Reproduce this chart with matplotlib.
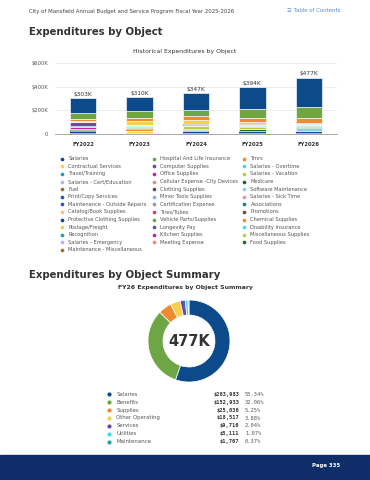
import matplotlib
matplotlib.use("Agg")
import matplotlib.pyplot as plt
from matplotlib.patches import Rectangle
import numpy as np

years = ["FY2022", "FY2023", "FY2024", "FY2025", "FY2026"]

# series in legend order (Highcharts stacks the first one on top)
names = [
    "Salaries", "Hospital And Life Insurance", "Tmrs",
    "Contractual Services", "Computer Supplies", "Salaries - Overtime",
    "Travel/Training", "Office Supplies", "Salaries - Vacation",
    "Salaries - Cert/Education", "Cellular Expense -City Devices", "Medicare",
    "Fuel", "Clothing Supplies", "Software Maintenance",
    "Print/Copy Services", "Minor Tools Supplies", "Salaries - Sick Time",
    "Maintenance - Outside Repairs", "Certification Expense", "Associations",
    "Catalog/Book Supplies", "Tires/Tubes", "Promotions",
    "Protective Clothing Supplies", "Vehicle Parts/Supplies", "Chemical Supplies",
    "Postage/Freight", "Longevity Pay", "Disability Insurance",
    "Recognition", "Kitchen Supplies", "Miscellaneous Supplies",
    "Salaries - Emergency", "Meeting Expense", "Food Supplies",
    "Maintenance - Miscellaneous",
]

# values in $K
values = [
    [125, 119, 140, 186, 247],
    [49, 60, 59, 72, 93],
    [20, 23, 33, 34, 42],
    [11, 29, 34, 20, 6],
    [33, 2, 3, 2, 3],
    [2, 12, 4, 12, 8],
    [2, 4, 3, 10, 4],
    [22, 2, 2, 2, 2],
    [3, 4, 30, 12, 7],
    [4, 3, 3, 3, 3],
    [2, 2, 2, 2, 2],
    [3, 4, 6, 10, 6],
    [2, 2, 2, 2, 2],
    [1, 1, 1, 1, 1],
    [1, 1, 2, 3, 28],
    [1, 1, 1, 1, 1],
    [1, 1, 1, 1, 1],
    [2, 2, 2, 2, 2],
    [1, 1, 1, 1, 1],
    [1, 1, 1, 1, 1],
    [1, 1, 1, 1, 1],
    [1, 1, 1, 1, 1],
    [1, 1, 1, 1, 1],
    [1, 1, 1, 1, 1],
    [1, 1, 1, 1, 1],
    [1, 1, 1, 1, 1],
    [1, 1, 1, 1, 1],
    [1, 20, 1, 1, 1],
    [1, 1, 1, 1, 1],
    [1, 1, 1, 1, 1],
    [1, 1, 1, 1, 1],
    [1, 1, 1, 1, 1],
    [1, 1, 1, 1, 1],
    [1, 1, 1, 1, 1],
    [1, 1, 1, 1, 1],
    [1, 1, 1, 1, 1],
    [1, 1, 1, 1, 1],
]

palette = [
    "#0d4a8c", "#6ea645", "#f08a2e", "#f5d14b", "#6b4aa6", "#3cdcec",
    "#1ba2ad", "#c0259a", "#c6c93b", "#b7b2f0", "#ee8a72", "#1d6b20",
    "#a8672c", "#4f5a57", "#8ccbea", "#1d5fae", "#7fb3e8", "#f08bc4",
    "#3e50b5", "#8c9aa8", "#17838b", "#f6bd8c", "#dc3a74", "#7a4a33",
]

pie_labels = ["Salaries", "Benefits", "Supplies", "Other Operating",
              "Services", "Utilities", "Maintenance"]
pie_values = [263983, 152933, 25036, 18517, 9716, 5111, 1767]
pie_colors = ["#0d4a8c", "#6ea645", "#f08a2e", "#f5d14b", "#6b4aa6",
              "#3cdcec", "#1ba2ad"]

W, H = 370, 480
fig = plt.figure(figsize=(3.7, 4.8), dpi=100)
fig.patch.set_facecolor("white")

def fx(x):
    return x / W

def fy(y):
    return 1 - y / H

# ---- stacked columns
ax = fig.add_axes([fx(55), fy(134), fx(337) - fx(55), fy(63) - fy(134)])
x = np.arange(len(years))
bottom = np.zeros(len(years))
for i in range(len(names) - 1, -1, -1):
    v = np.array(values[i], dtype=float)
    # thin white border only on the segments big enough to show it
    lw = [0.45 if vi >= 4 else 0 for vi in v]
    ax.bar(x, v, width=0.47, bottom=bottom, color=palette[i % 24],
           edgecolor="white", linewidth=lw, zorder=3)
    bottom += v
totals = bottom
for xi, t in zip(x, totals):
    ax.text(xi, t + 12, "${:.0f}K".format(t), ha="center", va="bottom",
            fontsize=4.2, color="#333333")
ax.set_xlim(-0.5, 4.5)
ax.set_ylim(0, 600)
ax.set_yticks([0, 200, 400, 600])
ax.set_yticklabels(["0", "$200K", "$400K", "$600K"])
ax.set_xticks(x)
ax.set_xticklabels(years, fontweight="bold")
ax.tick_params(axis="y", length=0, labelsize=3.8, labelcolor="#555555", pad=5)
ax.tick_params(axis="x", length=0, labelsize=3.8, labelcolor="#333333", pad=6)
ax.grid(axis="y", color="#e6e6e6", linewidth=0.5, zorder=0)
for s in ["top", "right", "left"]:
    ax.spines[s].set_visible(False)
ax.spines["bottom"].set_color("#999999")
ax.spines["bottom"].set_linewidth(0.6)

# ---- overlay for page text
ov = fig.add_axes([0, 0, 1, 1])
ov.set_xlim(0, W)
ov.set_ylim(H, 0)
ov.axis("off")
ov.patch.set_alpha(0)

ov.text(29, 11, "City of Mansfield Annual Budget and Service Program Fiscal Year 2025-2026",
        fontsize=3.9, color="#444444", va="center")
ov.text(340, 11, "\u2630 Table of Contents", fontsize=3.9, color="#5b8bd0",
        va="center", ha="right")
ov.text(29, 32, "Expenditures by Object", fontsize=7.3, fontweight="bold",
        color="#333333", va="center")
ov.text(185, 51, "Historical Expenditures by Object", fontsize=4.4,
        color="#333333", va="center", ha="center")

# legend, three columns filled row by row
col_x = [62, 154, 244]
for i, name in enumerate(names):
    r, c = divmod(i, 3)
    yy = 158.7 + r * 7.6
    ov.scatter(col_x[c], yy, s=7, color=palette[i % 24], linewidths=0)
    ov.text(col_x[c] + 6.5, yy, name, fontsize=3.7, color="#555555", va="center")

ov.text(29, 274.5, "Expenditures by Object Summary", fontsize=7.3,
        fontweight="bold", color="#333333", va="center")
ov.text(185, 288, "FY26 Expenditures by Object Summary", fontsize=4.4,
        fontweight="bold", color="#333333", va="center", ha="center")

# table under the donut
total = sum(pie_values)
for i, (lab, val) in enumerate(zip(pie_labels, pie_values)):
    yy = 394.3 + i * 7.9
    ov.scatter(109, yy, s=9, color=pie_colors[i], linewidths=0)
    ov.text(116.5, yy, lab, fontsize=3.9, color="#555555", va="center")
    ov.text(239.5, yy, "${:,}".format(val), fontsize=3.9, color="#333333",
            va="center", ha="right", family="DejaVu Sans Mono", fontweight="bold")
    ov.text(245, yy, "{:.2f}%".format(val / total * 100), fontsize=3.9,
            color="#555555", va="center", family="DejaVu Sans Mono")

# footer
ov.add_patch(Rectangle((0, 455), W, 25, color="#0f2d69", zorder=1))
ov.text(340, 465.5, "Page 335", fontsize=3.9, color="white", fontweight="bold",
        va="center", ha="right", zorder=2)

# ---- donut
R = 41
pa = fig.add_axes([fx(189 - 45), fy(341 + 45), fx(90), 90 / H])
pa.pie(pie_values, colors=pie_colors, startangle=90, counterclock=False,
       radius=1, wedgeprops=dict(width=1 - 26 / R, edgecolor="white", linewidth=0.5))
pa.set_xlim(-45 / R, 45 / R)
pa.set_ylim(-45 / R, 45 / R)
pa.set_aspect("equal")
pa.text(0, 0, "{:.0f}K".format(total / 1000), ha="center", va="center",
        fontsize=10.5, fontweight="bold", color="#333333")

fig.savefig("out.png", dpi=100)
